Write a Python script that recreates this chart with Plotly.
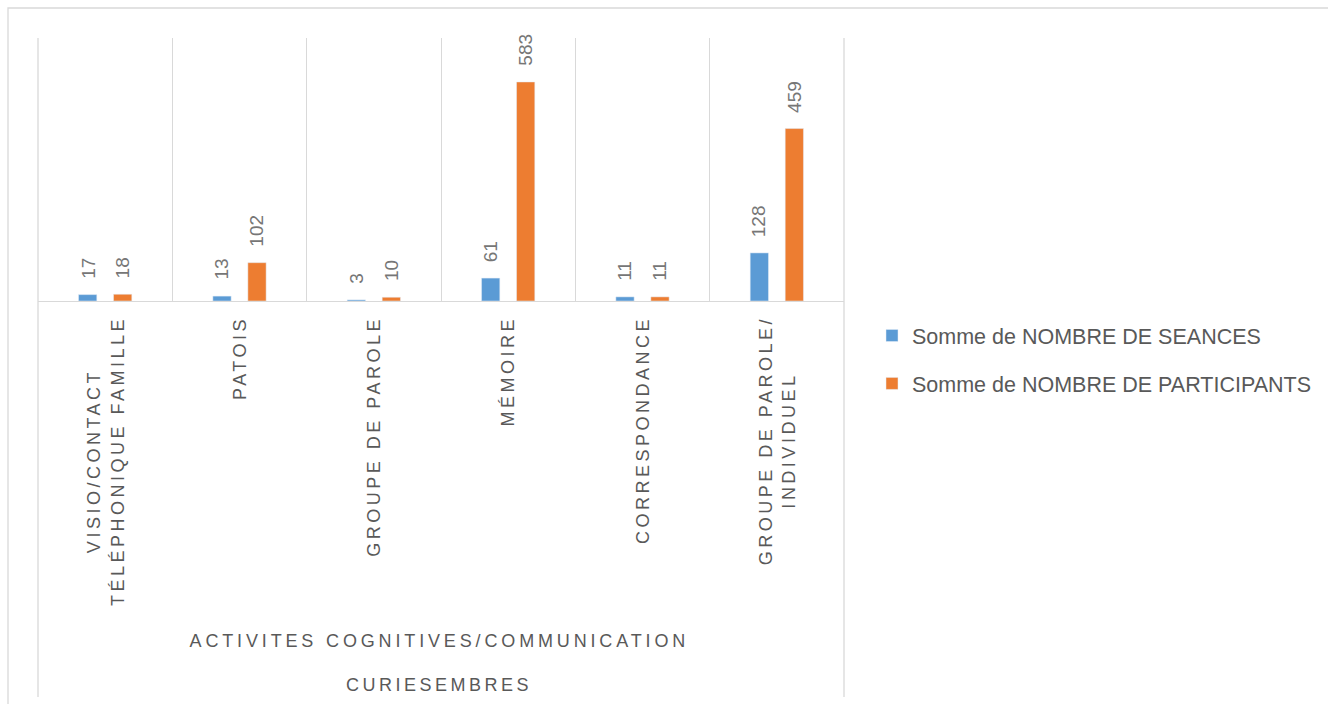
import plotly.graph_objects as go

# ---- data ----
categories = [
    "VISIO/CONTACT<br>TÉLÉPHONIQUE FAMILLE",
    "PATOIS",
    "GROUPE DE PAROLE",
    "MÉMOIRE",
    "CORRESPONDANCE",
    "GROUPE DE PAROLE/<br>INDIVIDUEL",
]
seances = [17, 13, 3, 61, 11, 128]
participants = [18, 102, 10, 583, 11, 459]
group_label = "ACTIVITES COGNITIVES/COMMUNICATION"
outer_label = "CURIESEMBRES"
series_names = ["Somme de NOMBRE DE SEANCES", "Somme de NOMBRE DE PARTICIPANTS"]
series_colors = ["#5B9BD5", "#ED7D31"]

W, H = 1328, 704
ML, MR, MT, MB = 38, 484, 38, 403
PH = H - MT - MB
FONT = "Liberation Sans, Arial, sans-serif"
GRID = "#D9D9D9"


def py(px):
    """pixel y (from top) -> paper y"""
    return (H - MB - px) / PH


def pxx(px):
    return (px - ML) / (W - ML - MR)


fig = go.Figure()
for name, vals, col in zip(series_names, [seances, participants], series_colors):
    fig.add_trace(go.Bar(
        x=categories, y=vals, name=name, marker_color=col,
        legendgroup=name, hoverinfo="y+name",
    ))

annotations = []
# category labels (rotated)
for c in categories:
    annotations.append(dict(
        x=c, xref="x", y=py(318), yref="paper", text=c, textangle=-90,
        xanchor="center", yanchor="top", showarrow=False, align="center",
        font=dict(family=FONT, size=18, color="#595959"),
    ))
# group labels
annotations.append(dict(
    x=0.5, xref="paper", y=py(641), yref="paper", text=group_label,
    showarrow=False, xanchor="center", yanchor="middle",
    font=dict(family=FONT, size=18, color="#595959"),
))
annotations.append(dict(
    x=0.5, xref="paper", y=py(685), yref="paper", text=outer_label,
    showarrow=False, xanchor="center", yanchor="middle",
    font=dict(family=FONT, size=18, color="#595959"),
))
# data labels
for vals, shift in [(seances, -17.5), (participants, 17.5)]:
    for c, v in zip(categories, vals):
        annotations.append(dict(
            x=c, xref="x", y=v, yref="y", text=str(v), textangle=-90,
            xshift=shift, yshift=14, xanchor="center", yanchor="bottom",
            showarrow=False, font=dict(family=FONT, size=19, color="#767676"),
        ))

shapes = [
    # outer chart border
    dict(type="rect", xref="paper", yref="paper", x0=pxx(8), x1=pxx(1340),
         y0=py(720), y1=py(8), line=dict(color=GRID, width=1.3), layer="below"),
    # outer category frame lines extending downward
    dict(type="line", xref="paper", yref="paper", x0=0, x1=0, y0=py(697), y1=1,
         line=dict(color=GRID, width=1.3), layer="below"),
    dict(type="line", xref="paper", yref="paper", x0=1, x1=1, y0=py(697), y1=1,
         line=dict(color=GRID, width=1.3), layer="below"),
]

fig.update_layout(
    width=W, height=H,
    margin=dict(l=ML, r=MR, t=MT, b=MB, autoexpand=False),
    paper_bgcolor="white", plot_bgcolor="white",
    barmode="group", bargap=0.479, bargroupgap=0.478,
    font=dict(family=FONT, color="#595959"),
    showlegend=True,
    legend=dict(
        x=pxx(872), xanchor="left", y=py(315), yanchor="top",
        font=dict(family=FONT, size=21.5, color="#595959"),
        traceorder="grouped", tracegroupgap=17, bgcolor="rgba(0,0,0,0)",
        itemwidth=30,
    ),
    xaxis=dict(
        type="category", range=[-0.5, 5.5], tickson="boundaries",
        showgrid=True, gridcolor=GRID, gridwidth=1.3,
        showline=True, linecolor=GRID, linewidth=1.3,
        showticklabels=False, ticks="", zeroline=False, fixedrange=True,
    ),
    yaxis=dict(range=[0, 700], visible=False, fixedrange=True),
    annotations=annotations,
    shapes=shapes,
)

post_js = """
(function(){
  document.body.style.margin='0';
  var gd=document.getElementById('{plot_id}');
  var base=gd.getBoundingClientRect();
  var LS=3.5, LSG=3.85;
  gd.querySelectorAll('g.annotation').forEach(function(a){
    var i=+a.getAttribute('data-index');
    var t=a.querySelector('text');
    if(!t) return;
    if(i<6){
      t.style.letterSpacing=LS+'px';
      var r=t.getBoundingClientRect();
      var dy=(base.top+316)-r.top;
      a.setAttribute('transform','translate(0,'+dy+')');
    } else if(i<8){
      t.style.letterSpacing=(i==6?LSG:LS)+'px';
      a.setAttribute('transform','translate(-2,0)');
    }
  });
})();
"""

fig.write_html("out.html", post_script=post_js, config={"displayModeBar": False})
